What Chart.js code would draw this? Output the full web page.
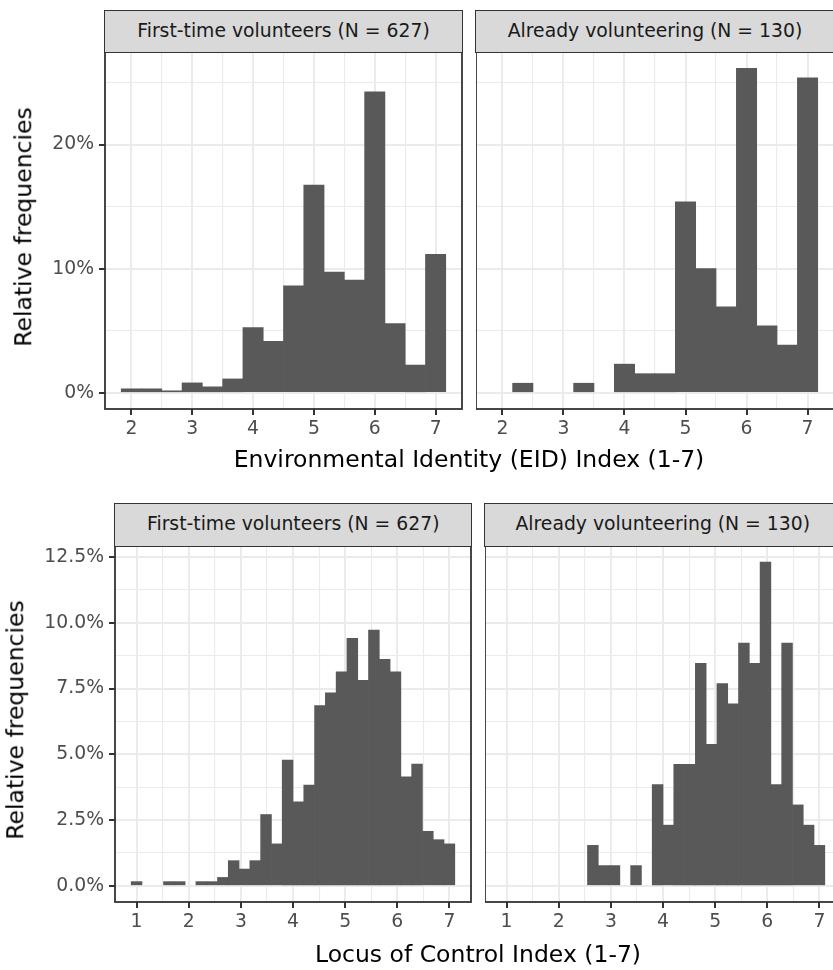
<!DOCTYPE html>
<html>
<head>
<meta charset="utf-8">
<script src="https://cdn.jsdelivr.net/npm/chart.js@4.4.1/dist/chart.umd.min.js"></script>
<style>
  html, body { margin: 0; padding: 0; background: #fff; overflow: hidden; }
  body { width: 833px; height: 970px; position: relative; font-family: "DejaVu Sans", sans-serif; }
  .box { position: absolute; }
  .strip { position: absolute; box-sizing: border-box; background: #D9D9D9; border: 1.8px solid #333;
           color: #1A1A1A; font-size: 18.8px; text-align: center; white-space: nowrap; z-index: 2; }
  .xtitle { position: absolute; font-size: 23.5px; line-height: 1; color: #000; white-space: nowrap;
            transform: translateX(-50%); z-index: 2; }
  .ytitle { position: absolute; font-size: 23.5px; line-height: 1; color: #000; white-space: nowrap;
            transform: translate(-50%, -50%) rotate(-90deg); z-index: 2; }
</style>
</head>
<body>
<script>
// ---- data: counts per bin ----

// Environmental Identity index, bins 1/3 wide
const eidBins = [2, 7/3, 8/3, 3, 10/3, 11/3, 4, 13/3, 14/3, 5, 16/3, 17/3, 6, 19/3, 20/3, 7];
const eidFirstTime = [2, 2, 1, 5, 3, 7, 33, 26, 54, 105, 61, 57, 152, 35, 14, 70];
const eidAlready   = [0, 1, 0, 0, 1, 0, 3, 2, 2, 20, 13, 9, 34, 7, 5, 33];

// Locus of Control index, 30 bins
const locBins = [1.0000, 1.2069, 1.4138, 1.6207, 1.8276, 2.0345, 2.2414, 2.4483, 2.6552, 2.8621,
                 3.0690, 3.2759, 3.4828, 3.6897, 3.8966, 4.1034, 4.3103, 4.5172, 4.7241, 4.9310,
                 5.1379, 5.3448, 5.5517, 5.7586, 5.9655, 6.1724, 6.3793, 6.5862, 6.7931, 7.0000];
const locFirstTime = [1, 0, 0, 1, 1, 0, 1, 1, 2, 6, 4, 6, 17, 10, 30, 20, 24, 43, 46, 51,
                      59, 49, 61, 54, 51, 26, 29, 13, 11, 10];
const locAlready   = [0, 0, 0, 0, 0, 0, 0, 0, 2, 1, 1, 0, 1, 0, 5, 3, 6, 6, 11, 7,
                      10, 9, 12, 11, 16, 5, 12, 4, 3, 2];

const groupNames = ['First-time volunteers', 'Already volunteering'];
const groupN = [627, 130];

const xTicks = [1, 2, 3, 4, 5, 6, 7];
const eidYTicks = [0, 10, 20];
const locYTicks = [0, 2.5, 5, 7.5, 10, 12.5];

// ---- drawing ----
const FONT = "'DejaVu Sans', sans-serif";
const TEXT_GREY = '#4D4D4D';
const GRID = '#EBEBEB';
const DARK = '#333333';
const BAR = '#595959';

function pct(counts, n) { return counts.map(c => c / n * 100); }

// ggplot-style limits: data range padded by 5% on each side
function expand(lo, hi) { const d = (hi - lo) * 0.05; return [lo - d, hi + d]; }

// majors plus midpoints between them, inside [lo, hi]
function withMinor(majors, lo, hi) {
  const out = [];
  const step = majors[1] - majors[0];
  for (let i = -1; i < majors.length; i++) {
    const m = i < 0 ? majors[0] - step : majors[i];
    if (i >= 0 && m >= lo && m <= hi) out.push(m);
    const mid = m + step / 2;
    if (mid >= lo && mid <= hi) out.push(mid);
  }
  return out.sort((a, b) => a - b);
}

const panelFrame = {
  id: 'panelFrame',
  afterDraw(chart) {
    const { ctx, chartArea: a } = chart;
    ctx.save();
    ctx.strokeStyle = DARK;
    ctx.lineWidth = 1.8;
    ctx.strokeRect(a.left, a.top, a.right - a.left, a.bottom - a.top);
    ctx.restore();
  }
};

function addText(cls, text, css) {
  const d = document.createElement('div');
  d.className = cls;
  d.textContent = text;
  Object.assign(d.style, css);
  document.body.appendChild(d);
  return d;
}

// no label overhang padding: the plot area is placed exactly
function noPad(s) { s.paddingLeft = 0; s.paddingRight = 0; s.paddingTop = 0; s.paddingBottom = 0; }

function histPanel(p) {
  const xAxisH = 40, padRight = 20;
  const wrap = document.createElement('div');
  wrap.className = 'box';
  wrap.style.left = (p.left - p.yw) + 'px';
  wrap.style.top = p.top + 'px';
  document.body.appendChild(wrap);
  const canvas = document.createElement('canvas');
  canvas.width = p.yw + p.w + padRight;
  canvas.height = p.h + xAxisH;
  wrap.appendChild(canvas);

  const xMajor = v => xTicks.includes(v);
  const yMajor = v => p.yTicks.includes(v);

  new Chart(canvas, {
    type: 'bar',
    data: {
      datasets: [{
        // empty bins stay empty instead of leaving a hairline at zero
        data: p.bins.map((b, i) => ({ x: b, y: p.values[i] > 0 ? p.values[i] : null })),
        backgroundColor: BAR,
        borderWidth: 0,
        barPercentage: 1,
        categoryPercentage: 1
      }]
    },
    options: {
      responsive: false,
      animation: false,
      layout: { padding: { left: 0, right: padRight, top: 0, bottom: 0 } },
      plugins: { legend: { display: false }, tooltip: { enabled: false } },
      scales: {
        x: {
          type: 'linear',
          offset: false,
          min: p.xLim[0], max: p.xLim[1],
          afterBuildTicks: s => { s.ticks = withMinor(xTicks, p.xLim[0], p.xLim[1]).map(v => ({ value: v })); },
          afterFit: s => { s.height = xAxisH; noPad(s); },
          border: { display: false },
          grid: {
            offset: false,
            color: GRID,
            lineWidth: c => (c.tick && xMajor(c.tick.value)) ? 2 : 1.1,
            tickColor: c => (c.tick && xMajor(c.tick.value)) ? DARK : 'rgba(0,0,0,0)',
            tickLength: 6,
            tickWidth: 2
          },
          ticks: {
            autoSkip: false, maxRotation: 0, padding: 3,
            color: TEXT_GREY,
            font: { family: FONT, size: 18.8 },
            callback: v => xMajor(v) ? String(v) : ''
          }
        },
        y: {
          min: p.yLim[0], max: p.yLim[1],
          afterBuildTicks: s => { s.ticks = withMinor(p.yTicks, p.yLim[0], p.yLim[1]).map(v => ({ value: v })); },
          afterFit: s => { s.width = p.yw; noPad(s); },
          border: { display: false },
          grid: {
            color: GRID,
            lineWidth: c => (c.tick && yMajor(c.tick.value)) ? 2 : 1.1,
            tickColor: c => (c.tick && yMajor(c.tick.value)) ? DARK : 'rgba(0,0,0,0)',
            drawTicks: p.showY,
            tickLength: 6,
            tickWidth: 2
          },
          ticks: {
            display: p.showY,
            autoSkip: false, padding: 5,
            color: TEXT_GREY,
            font: { family: FONT, size: 18.8 },
            callback: v => yMajor(v) ? p.yFmt(v) : ''
          }
        }
      }
    },
    plugins: [panelFrame]
  });

  addText('strip', p.title, {
    left: (p.left - 0.9) + 'px', top: p.stripTop + 'px',
    width: (p.w + 1.8) + 'px', height: (p.top - p.stripTop + 0.9) + 'px',
    lineHeight: (p.top - p.stripTop - 2.7) + 'px'
  });
}

// shared limits for each pair of facets
const eidEdges = [eidBins[0] - 1 / 6, eidBins[eidBins.length - 1] + 1 / 6];
const eidX = expand(eidEdges[0], eidEdges[1]);
const eidMax = Math.max(...pct(eidFirstTime, groupN[0]), ...pct(eidAlready, groupN[1]));
const eidY = expand(0, eidMax);

const locHalf = (locBins[1] - locBins[0]) / 2;
const locX = expand(locBins[0] - locHalf, locBins[locBins.length - 1] + locHalf);
const locMax = Math.max(...pct(locFirstTime, groupN[0]), ...pct(locAlready, groupN[1]));
const locY = expand(0, locMax);

const eidFmt = v => v + '%';
const locFmt = v => v.toFixed(1) + '%';

const label = i => `${groupNames[i]} (N = ${groupN[i]})`;

// top row: Environmental Identity
histPanel({ left: 105, top: 52, w: 357, h: 357, yw: 105, stripTop: 10, showY: true,
  bins: eidBins, values: pct(eidFirstTime, groupN[0]), xLim: eidX, yLim: eidY,
  yTicks: eidYTicks, yFmt: eidFmt, title: label(0) });
histPanel({ left: 476, top: 52, w: 358, h: 357, yw: 0, stripTop: 10, showY: false,
  bins: eidBins, values: pct(eidAlready, groupN[1]), xLim: eidX, yLim: eidY,
  yTicks: eidYTicks, yFmt: eidFmt, title: label(1) });

// bottom row: Locus of Control
histPanel({ left: 115, top: 546, w: 356.5, h: 356, yw: 115, stripTop: 503, showY: true,
  bins: locBins, values: pct(locFirstTime, groupN[0]), xLim: locX, yLim: locY,
  yTicks: locYTicks, yFmt: locFmt, title: label(0) });
histPanel({ left: 484.5, top: 546, w: 356.5, h: 356, yw: 0, stripTop: 503, showY: false,
  bins: locBins, values: pct(locAlready, groupN[1]), xLim: locX, yLim: locY,
  yTicks: locYTicks, yFmt: locFmt, title: label(1) });

addText('xtitle', 'Environmental Identity (EID) Index (1-7)', { left: '469px', top: '448px' });
addText('xtitle', 'Locus of Control Index (1-7)', { left: '478px', top: '943px' });
addText('ytitle', 'Relative frequencies', { left: '24px', top: '227px' });
addText('ytitle', 'Relative frequencies', { left: '16px', top: '720px' });
</script>
</body>
</html>
